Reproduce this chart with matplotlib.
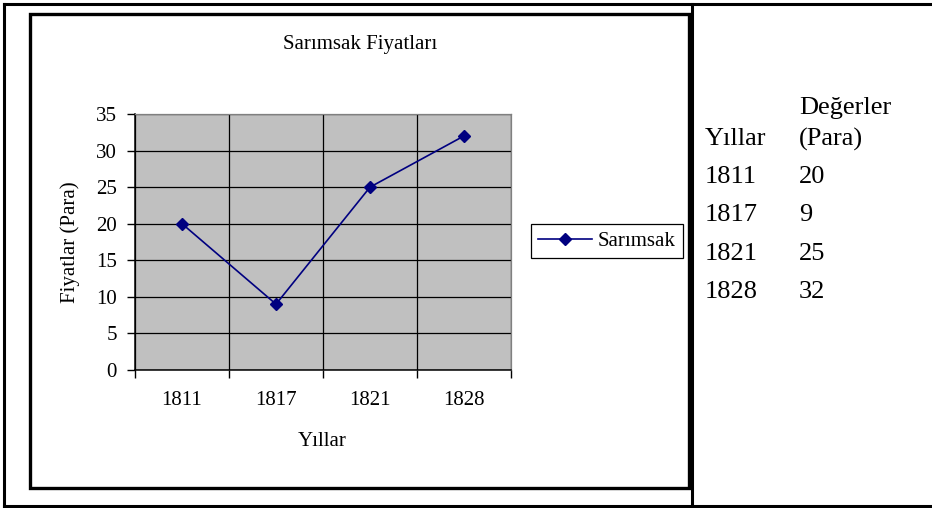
import matplotlib
matplotlib.use("Agg")
import matplotlib.pyplot as plt
from matplotlib.patches import Rectangle
from matplotlib.lines import Line2D

years = ["1811", "1817", "1821", "1828"]
prices = [20, 9, 25, 32]
y_ticks = [0, 5, 10, 15, 20, 25, 30, 35]

W, H = 932, 508
plt.rcParams["font.family"] = ["Liberation Serif", "DejaVu Serif"]


def fx(px):
    return px / W


def fy(py):
    return 1 - py / H


fig = plt.figure(figsize=(W / 100, H / 100), dpi=100)

# table frame: outer border and the column divider
for (x0, y0, x1, y1) in [(4, 4, W, 4), (4, 506, W, 506), (4, 4, 4, 506), (692, 4, 692, 506)]:
    fig.add_artist(Line2D([fx(x0), fx(x1)], [fy(y0), fy(y1)], color="black", lw=2.2))

# chart frame
fig.add_artist(Rectangle((fx(30), fy(488)), fx(689) - fx(30), fy(14) - fy(488),
                         fill=False, edgecolor="black", lw=2.4))

ax = fig.add_axes([fx(135), fy(370), fx(511) - fx(135), fy(114) - fy(370)])
ax.set_facecolor("#c0c0c0")
xs = [i + 0.5 for i in range(len(years))]
ax.plot(xs, prices, color="#000080", lw=1.2, marker="D", markersize=6.2,
        label="Sarımsak")

ax.set_xlim(0, len(years))
ax.set_ylim(0, 35)
ax.set_xticks(xs)
ax.set_xticklabels(years)
ax.set_xticks(range(len(years) + 1), minor=True)
ax.tick_params(axis="x", which="major", length=0, pad=15, labelsize=15)
ax.tick_params(axis="x", which="minor", length=6, width=1, color="black")
ax.set_yticks(y_ticks)
ax.tick_params(axis="y", length=6, width=1, labelsize=15, pad=7)
ax.grid(axis="y", which="major", color="black", lw=0.9)
ax.grid(axis="x", which="minor", color="black", lw=0.9)
ax.set_axisbelow(True)
for side in ["top", "right"]:
    ax.spines[side].set_color("#808080")
    ax.spines[side].set_linewidth(0.9)
for side in ["left", "bottom"]:
    ax.spines[side].set_color("black")
    ax.spines[side].set_linewidth(1.1)

fig.text(fx(322), fy(442), "Yıllar", fontsize=15, ha="center", va="center")
fig.text(fx(70), fy(242), "Fiyatlar (Para)", fontsize=15, rotation=90,
         ha="center", va="center")
fig.text(fx(360), fy(45), "Sarımsak Fiyatları", fontsize=15, ha="center", va="center")

leg = ax.legend(loc="center left", bbox_to_anchor=(fx(531), fy(241)),
                bbox_transform=fig.transFigure, fontsize=15, frameon=True,
                fancybox=False, edgecolor="black", framealpha=1,
                handlelength=2.6, handletextpad=0.25, borderpad=0.35,
                borderaxespad=0)
leg.get_frame().set_linewidth(0.9)

# data table beside the chart
col1, col2 = 705, 799
fig.text(fx(col2), fy(108), "Değerler", fontsize=19, va="center", ha="left")
fig.text(fx(col1), fy(139), "Yıllar", fontsize=19, va="center", ha="left")
fig.text(fx(col2), fy(139), "(Para)", fontsize=19, va="center", ha="left")
for i, (yr, p) in enumerate(zip(years, prices)):
    yy = 177 + i * 38.3
    fig.text(fx(col1), fy(yy), yr, fontsize=19, va="center", ha="left")
    fig.text(fx(col2), fy(yy), str(p), fontsize=19, va="center", ha="left")

fig.savefig("out.png", dpi=100)
